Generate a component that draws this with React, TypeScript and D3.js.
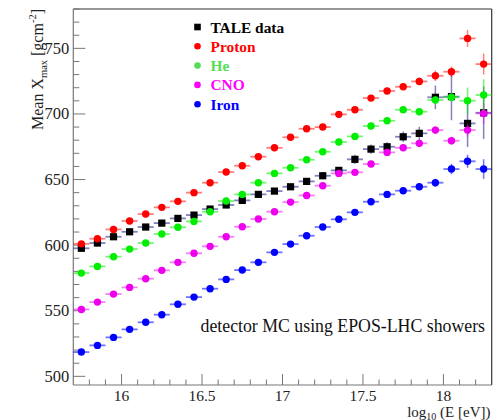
import React from "react";
import * as d3 from "d3";

const energies = [15.75,15.85,15.95,16.05,16.15,16.25,16.35,16.45,16.55,16.65,16.75,16.85,16.95,17.05,17.15,17.25,17.35,17.45,17.55,17.65,17.75,17.85,17.95,18.05,18.15,18.25];

const taleData = [597.6,601.6,606.4,610.2,613.8,616.8,620.4,622.9,627.5,630.6,634.1,638.7,641.2,644.5,648.6,652.9,657.0,665.4,673.2,675.0,682.6,685.2,712.7,713.2,692.8,700.9];
const taleErr = [1.5,1.5,1.5,1.5,1.5,1.5,1.5,1.5,1.5,1.5,1.5,2,2,2,2,2.5,2.5,3.5,3.5,3.5,4,5,9,18,18,20];

const proton = [601.0,604.9,612.0,618.4,623.7,628.8,633.4,640.0,647.6,655.7,660.5,667.4,674.2,682.2,688.7,690.0,699.7,703.2,712.1,717.5,720.7,724.8,729.1,732.2,757.6,738.0];
const protonErr = [1,1,1,1,1,1,1,1,1,1,1,1,1,1,1,1,1.5,1.5,1.5,2,2,3,4,4,6.5,8];

const helium = [578.7,583.8,591.2,597.0,601.6,608.5,613.6,618.1,625.5,633.6,638.7,647.6,654.7,659.0,665.1,671.2,678.6,682.9,690.8,694.8,703.2,701.7,710.6,712.7,710.1,714.4];
const heliumErr = [1,1,1,1,1,1,1,1,1,1,1,1,1,1,1,1,1.5,1.5,1.5,2,2,2.5,3,3,10,12];

const cno = [551.0,556.6,562.7,567.8,574.4,580.8,586.9,593.8,599.1,606.4,614.0,619.9,625.5,632.8,637.9,645.3,654.7,655.5,661.8,670.7,674.2,677.6,687.7,679.6,687.7,700.4];
const cnoErr = [1,1,1,1,1,1,1,1,1,1,1,1,1,1,1,1,1.5,1.5,1.5,2,2,2.5,3,3,5,8];

const iron = [518.5,523.6,529.7,535.8,541.2,547.0,554.9,560.4,566.8,573.9,581.0,586.9,594.5,600.8,607.2,613.8,619.7,625.0,633.1,638.7,641.5,644.5,647.6,658.0,663.9,658.0];
const ironErr = [1,1,1,1,1,1,1,1,1,1,1,1,1,1,1,1,1.5,1.5,1.5,2,2,2.5,3,4,5,7.5];

const xMajorTicks = [16, 16.5, 17, 17.5, 18];
const xTickLabels = ["16", "16.5", "17", "17.5", "18"];
const yMajorTicks = [500, 550, 600, 650, 700, 750];
const yTickLabels = ["500", "550", "600", "650", "700", "750"];

const legendLabels = ["TALE data", "Proton", "He", "CNO", "Iron"];

const FONT = "Liberation Serif, Times New Roman, Times, serif";

export default function App() {
  const W = 496, H = 420;
  const left = 73.3, right = 491.7, top = 9, bottom = 385;
  const x = d3.scaleLinear().domain([15.7, 18.3]).range([left, right]);
  const y = d3.scaleLinear().domain([493.4, 780]).range([bottom, top]);
  const halfBin = 0.05;

  const series = [
    { vals: taleData, errs: taleErr, color: "#000000", err: "#1c1c8c", errOp: 0.55, square: true },
    { vals: iron, errs: ironErr, color: "#0000ff", err: "#0000ff", errOp: 0.55, square: false },
    { vals: cno, errs: cnoErr, color: "#ee00ee", err: "#ee00ee", errOp: 0.5, square: false },
    { vals: helium, errs: heliumErr, color: "#00ee00", err: "#00ee00", errOp: 0.55, square: false },
    { vals: proton, errs: protonErr, color: "#ff0000", err: "#ff0000", errOp: 0.5, square: false },
  ];

  const legendColors = ["#000000", "#ff0000", "#55dd55", "#ff00ff", "#0000ff"];
  const legendTextColors = ["#000000", "#ff0000", "#55dd55", "#ff00ff", "#0000ff"];

  const xMinor = d3.range(15.8, 18.25, 0.1).map((v) => Math.round(v * 10) / 10);
  const yMinor = d3.range(500, 781, 10);

  return (
    <svg width={W} height={H} style={{ position: "absolute", left: 0, top: 0, fontFamily: FONT }}>
      <rect x={0} y={0} width={W} height={H} fill="#fff" />
      {/* frame */}
      <line x1={left} y1={top} x2={right} y2={top} stroke="#333" strokeWidth={1.2} />
      <line x1={right} y1={top} x2={right} y2={bottom} stroke="#333" strokeWidth={1.2} />
      <line x1={left} y1={top} x2={left} y2={bottom} stroke="#777" strokeWidth={1.2} />
      <line x1={left} y1={bottom} x2={right} y2={bottom} stroke="#777" strokeWidth={1.2} />
      {/* y ticks */}
      {yMinor.map((v) => {
        const major = v % 50 === 0;
        return <line key={"yt" + v} x1={left} x2={left + (major ? 12 : 6)} y1={y(v)} y2={y(v)} stroke="#777" strokeWidth={1} />;
      })}
      {yMajorTicks.map((v, i) => (
        <text key={"yl" + v} x={left - 4} y={y(v) + 5.5} textAnchor="end" fontSize={16.5} fill="#222">{yTickLabels[i]}</text>
      ))}
      {/* x ticks */}
      {xMinor.map((v) => {
        const major = xMajorTicks.some((m) => Math.abs(m - v) < 1e-6);
        return <line key={"xt" + v} x1={x(v)} x2={x(v)} y1={bottom} y2={bottom - (major ? 11 : 5.5)} stroke="#777" strokeWidth={1} />;
      })}
      {xMajorTicks.map((v, i) => (
        <text key={"xl" + v} x={x(v)} y={400.5} textAnchor="middle" fontSize={15.5} fill="#222">{xTickLabels[i]}</text>
      ))}
      {/* axis titles */}
      <text transform="translate(42.5,9) rotate(-90)" textAnchor="end" fontSize={16} fill="#222">
        Mean X<tspan fontSize={10.5} dy={4}>max</tspan><tspan dy={-4}> [gcm</tspan><tspan fontSize={10.5} dy={-7}>-2</tspan><tspan dy={7}>]</tspan>
      </text>
      <text x={490.5} y={416.5} textAnchor="end" fontSize={15} fill="#222">
        log<tspan fontSize={10} dy={3}>10</tspan><tspan dy={-3}> (E [eV])</tspan>
      </text>
      {/* data */}
      {series.map((s, si) => (
        <g key={"s" + si}>
          {s.vals.map((v, i) => (
            <g key={i}>
              <line x1={x(energies[i] - halfBin)} x2={x(energies[i] + halfBin)} y1={y(v)} y2={y(v)} stroke={s.err} strokeOpacity={s.errOp} strokeWidth={1.8} />
              <line x1={x(energies[i])} x2={x(energies[i])} y1={y(v - s.errs[i])} y2={y(v + s.errs[i])} stroke={s.err} strokeOpacity={s.errOp} strokeWidth={1.5} />
            </g>
          ))}
          {s.vals.map((v, i) =>
            s.square ? (
              <rect key={"m" + i} x={x(energies[i]) - 3.6} y={y(v) - 3.6} width={7.2} height={7.2} fill={s.color} />
            ) : (
              <circle key={"m" + i} cx={x(energies[i])} cy={y(v)} r={3.7} fill={s.color} />
            )
          )}
        </g>
      ))}
      {/* legend */}
      {legendLabels.map((lab, i) => {
        const ly = 27 + i * 19.3;
        return (
          <g key={"lg" + i}>
            {i === 0 ? (
              <rect x={197.5 - 3.3} y={ly - 3.3} width={6.6} height={6.6} fill={legendColors[i]} />
            ) : (
              <circle cx={197.5} cy={ly} r={3.3} fill={legendColors[i]} />
            )}
            <text x={210.5} y={ly + 5.5} fontSize={15.4} fontWeight="bold" fill={legendTextColors[i]}>{lab}</text>
          </g>
        );
      })}
      <text x={485} y={332} textAnchor="end" fontSize={17.8} fill="#111">detector MC using EPOS-LHC showers</text>
    </svg>
  );
}
